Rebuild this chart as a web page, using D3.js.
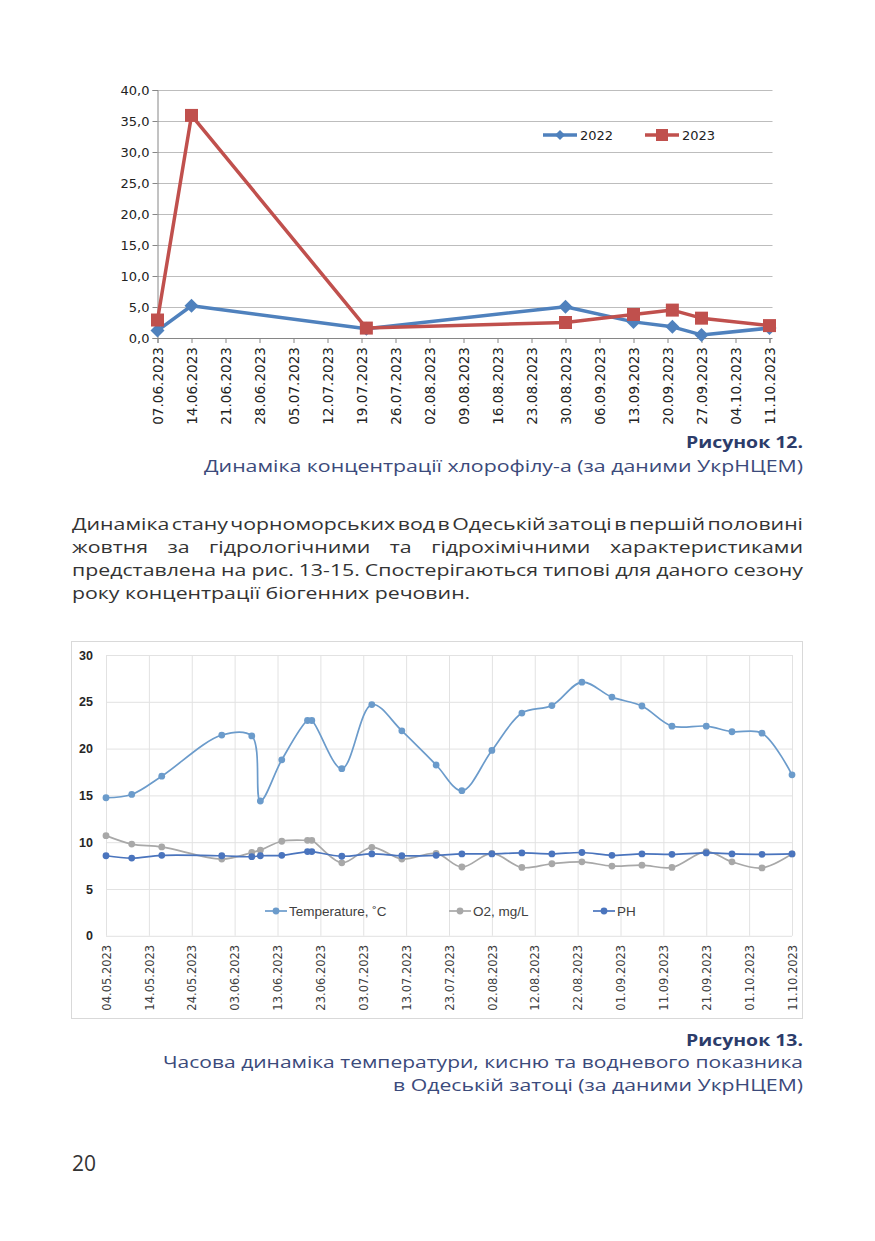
<!DOCTYPE html>
<html>
<head>
<meta charset="utf-8">
<script src="https://cdn.jsdelivr.net/npm/d3@7"></script>
<style>
  body { margin: 0; background: #fff; }
  svg { display: block; }
</style>
</head>
<body>
<div id="page"></div>
<script>
// Figure 12: chlorophyll-a
const chlDates = ["07.06.2023", "14.06.2023", "20.07.2023", "30.08.2023", "13.09.2023", "21.09.2023", "27.09.2023", "11.10.2023"];
const chl2022 = [1.2, 5.2, 1.5, 5.05, 2.6, 1.8, 0.5, 1.6];
const chl2023 = [2.9, 35.9, 1.6, 2.5, 3.8, 4.5, 3.2, 2.0];
const chlTicks = [0, 5, 10, 15, 20, 25, 30, 35, 40];

// Figure 13: temperature, oxygen, pH
const hydDates = ["04.05.2023", "10.05.2023", "17.05.2023", "31.05.2023", "07.06.2023", "09.06.2023",
  "14.06.2023", "20.06.2023", "21.06.2023", "28.06.2023", "05.07.2023", "12.07.2023", "20.07.2023",
  "26.07.2023", "02.08.2023", "09.08.2023", "16.08.2023", "23.08.2023", "30.08.2023", "06.09.2023",
  "13.09.2023", "21.09.2023", "27.09.2023", "04.10.2023", "11.10.2023"];
const temperature = [14.75, 15.1, 17.05, 21.45, 21.35, 14.4, 18.8, 23.0, 23.0, 17.85, 24.7, 21.9, 18.25,
  15.5, 19.8, 23.8, 24.6, 27.1, 25.5, 24.55, 22.4, 22.4, 21.8, 21.65, 17.2];
const oxygen = [10.7, 9.8, 9.5, 8.2, 8.9, 9.15, 10.1, 10.2, 10.2, 7.8, 9.45, 8.2, 8.8,
  7.35, 8.8, 7.3, 7.7, 7.9, 7.45, 7.55, 7.3, 9.0, 7.9, 7.25, 8.75];
const ph = [8.55, 8.3, 8.6, 8.55, 8.45, 8.55, 8.6, 9.0, 9.0, 8.5, 8.75, 8.55, 8.6,
  8.75, 8.75, 8.85, 8.75, 8.9, 8.6, 8.75, 8.7, 8.85, 8.75, 8.7, 8.75];
const hydTicks = [0, 5, 10, 15, 20, 25, 30];

const parseDate = d3.timeParse("%d.%m.%Y");
const formatDate = d3.timeFormat("%d.%m.%Y");

const svg = d3.select("#page").append("svg")
    .attr("width", 875)
    .attr("height", 1241);

// ---------- Figure 12 ----------
const x1 = d3.scaleTime()
    .domain([parseDate(chlDates[0]), parseDate(chlDates[chlDates.length - 1])])
    .range([157.5, 769.5]);
const y1 = d3.scaleLinear().domain([0, 40]).range([338, 90]);

const g1 = svg.append("g");

// gridlines
g1.append("g")
    .attr("transform", "translate(157.5,0)")
    .call(d3.axisLeft(y1).tickValues(chlTicks).tickSize(-615).tickFormat(""))
    .call(g => g.select(".domain").remove())
    .call(g => g.selectAll("line").attr("stroke", d => d === 0 ? "#868686" : "#bdbdbd"));

// y axis with labels
g1.append("g")
    .attr("transform", "translate(157.5,0)")
    .call(d3.axisLeft(y1).tickValues(chlTicks).tickSize(5).tickPadding(3)
      .tickFormat(d => d3.format(".1f")(d).replace(".", ",")))
    .call(g => g.select(".domain").attr("stroke", "#868686"))
    .call(g => g.selectAll("line").attr("stroke", "#868686"))
    .call(g => g.selectAll("text")
      .attr("fill", "#222")
      .style("font-family", "'DejaVu Sans', sans-serif")
      .style("font-size", "13px"));

// x axis
const chlTickDates = d3.timeDay.range(parseDate(chlDates[0]),
    d3.timeDay.offset(parseDate(chlDates[chlDates.length - 1]), 1), 7);
g1.append("g")
    .attr("transform", "translate(0,338)")
    .call(d3.axisBottom(x1).tickValues(chlTickDates).tickSize(5).tickFormat(formatDate))
    .call(g => g.select(".domain").attr("stroke", "#868686"))
    .call(g => g.selectAll("line").attr("stroke", "#868686"))
    .call(g => g.selectAll("text")
      .attr("transform", "rotate(-90)")
      .attr("x", -9)
      .attr("y", 0)
      .attr("dy", "0.36em")
      .attr("text-anchor", "end")
      .attr("fill", "#222")
      .style("font-family", "'DejaVu Sans', sans-serif")
      .style("font-size", "13.6px"));

const chlData2022 = chlDates.map((d, i) => ({ date: parseDate(d), value: chl2022[i] }));
const chlData2023 = chlDates.map((d, i) => ({ date: parseDate(d), value: chl2023[i] }));

const line1 = d3.line().x(d => x1(d.date)).y(d => y1(d.value));

g1.append("path")
    .datum(chlData2022)
    .attr("fill", "none")
    .attr("stroke", "#4f81bd")
    .attr("stroke-width", 3.5)
    .attr("stroke-linejoin", "round")
    .attr("d", line1);

g1.selectAll(".dia")
    .data(chlData2022)
    .enter().append("path")
    .attr("class", "dia")
    .attr("transform", d => `translate(${x1(d.date)},${y1(d.value)})`)
    .attr("d", "M0,-7L7,0L0,7L-7,0Z")
    .attr("fill", "#4f81bd");

g1.append("path")
    .datum(chlData2023)
    .attr("fill", "none")
    .attr("stroke", "#c0504d")
    .attr("stroke-width", 3.5)
    .attr("stroke-linejoin", "round")
    .attr("d", line1);

g1.selectAll(".sq")
    .data(chlData2023)
    .enter().append("rect")
    .attr("class", "sq")
    .attr("x", d => x1(d.date) - 6.5)
    .attr("y", d => y1(d.value) - 6.5)
    .attr("width", 13)
    .attr("height", 13)
    .attr("fill", "#c0504d");

// legend
const leg1 = g1.append("g").style("font-family", "'DejaVu Sans', sans-serif").style("font-size", "13px");
leg1.append("line").attr("x1", 543).attr("x2", 577).attr("y1", 135).attr("y2", 135)
    .attr("stroke", "#4f81bd").attr("stroke-width", 3.5);
leg1.append("path").attr("transform", "translate(560,135)").attr("d", "M0,-5L5,0L0,5L-5,0Z").attr("fill", "#4f81bd");
leg1.append("text").attr("x", 580).attr("y", 140).attr("fill", "#222").text("2022");
leg1.append("line").attr("x1", 645).attr("x2", 679).attr("y1", 135).attr("y2", 135)
    .attr("stroke", "#c0504d").attr("stroke-width", 3.5);
leg1.append("rect").attr("x", 656).attr("y", 129).attr("width", 12).attr("height", 12).attr("fill", "#c0504d");
leg1.append("text").attr("x", 682).attr("y", 140).attr("fill", "#222").text("2023");

// ---------- captions and paragraph ----------
const pageFont = "'Open Sans', 'Noto Sans', sans-serif";

function caption(x, y, str, width, bold) {
  svg.append("text")
      .attr("x", x).attr("y", y)
      .attr("text-anchor", "end")
      .attr("textLength", width)
      .attr("lengthAdjust", "spacingAndGlyphs")
      .attr("fill", bold ? "#2c3c6a" : "#3b4a7b")
      .style("font-family", pageFont)
      .style("font-weight", bold ? 700 : 400)
      .style("font-size", "16.5px")
      .text(str);
}

caption(803, 448, "Рисунок 12.", 117, true);
caption(803, 472, "Динаміка концентрації хлорофілу-а (за даними УкрНЦЕМ)", 599, false);

const paragraph = [
  "Динаміка стану чорноморських вод в Одеській затоці в першій половині",
  "жовтня за гідрологічними та гідрохімічними характеристиками",
  "представлена на рис. 13-15. Спостерігаються типові для даного сезону",
  "року концентрації біогенних речовин."
];
const paraNodes = paragraph.map((s, i) => svg.append("text")
    .attr("x", 0).attr("y", 0)
    .attr("fill", "#333")
    .style("font-family", pageFont)
    .style("font-weight", 400)
    .style("font-size", "16.8px")
    .text(s));

// wide glyphs like the original face: stretch horizontally to match the last line,
// then justify lines 1-3 with word spacing
const sx = 398 / paraNodes[3].node().getComputedTextLength();
paraNodes.forEach((t, i) => {
  t.attr("transform", `translate(72,${530 + i * 23}) scale(${sx},1)`);
  if (i < 3) {
    const natural = t.node().getComputedTextLength();
    const gaps = paragraph[i].split(" ").length - 1;
    t.style("word-spacing", ((731 / sx - natural) / gaps) + "px");
  }
});

caption(803, 1046, "Рисунок 13.", 117, true);
caption(803, 1068, "Часова динаміка температури, кисню та водневого показника", 640, false);
caption(803, 1091, "в Одеській затоці (за даними УкрНЦЕМ)", 410, false);

svg.append("text")
    .attr("x", 72).attr("y", 1171)
    .attr("fill", "#333")
    .style("font-family", pageFont)
    .style("font-size", "21px")
    .text("20");

// ---------- Figure 13 ----------
const g2 = svg.append("g");

g2.append("rect")
    .attr("x", 71.5).attr("y", 641.5)
    .attr("width", 731).attr("height", 377)
    .attr("fill", "#fff")
    .attr("stroke", "#d9d9d9");

const x2 = d3.scaleTime()
    .domain([parseDate("04.05.2023"), parseDate("11.10.2023")])
    .range([106, 792]);
const y2 = d3.scaleLinear().domain([0, 30]).range([935.8, 655]);

const hydTickDates = d3.timeDay.range(parseDate("04.05.2023"),
    d3.timeDay.offset(parseDate("11.10.2023"), 1), 10);

// horizontal gridlines + y labels
g2.append("g")
    .attr("transform", "translate(106,0)")
    .call(d3.axisLeft(y2).tickValues(hydTicks).tickSize(-686).tickPadding(13))
    .call(g => g.select(".domain").remove())
    .call(g => g.selectAll("line").attr("stroke", "#e2e2e2"))
    .call(g => g.selectAll("text")
      .attr("fill", "#262626")
      .style("font-family", "'Liberation Sans', Arial, sans-serif")
      .style("font-weight", 700)
      .style("font-size", "12.5px"));

// vertical gridlines + x labels
g2.append("g")
    .attr("transform", "translate(0,935.8)")
    .call(d3.axisBottom(x2).tickValues(hydTickDates).tickSize(-280.8).tickFormat(formatDate))
    .call(g => g.select(".domain").remove())
    .call(g => g.selectAll("line").attr("stroke", "#e2e2e2"))
    .call(g => g.selectAll("text")
      .attr("transform", "rotate(-90)")
      .attr("x", -9)
      .attr("y", 0)
      .attr("dy", "0.36em")
      .attr("text-anchor", "end")
      .attr("fill", "#404040")
      .style("font-family", "'DejaVu Sans', sans-serif")
      .style("font-size", "11.5px"));

const series = [
  { name: "Temperature, ˚C", values: temperature, color: "#6b9bcb", lx: 265 },
  { name: "O2, mg/L", values: oxygen, color: "#a8a8a8", lx: 449 },
  { name: "PH", values: ph, color: "#4a74bd", lx: 593 }
];

const line2 = d3.line()
    .x(d => x2(d.date))
    .y(d => y2(d.value))
    .curve(d3.curveCatmullRom.alpha(0.5));

series.forEach(s => {
  const data = hydDates.map((d, i) => ({ date: parseDate(d), value: s.values[i] }));
  g2.append("path")
      .datum(data)
      .attr("fill", "none")
      .attr("stroke", s.color)
      .attr("stroke-width", 1.7)
      .attr("d", line2);
  g2.append("g").selectAll("circle")
      .data(data)
      .enter().append("circle")
      .attr("cx", d => x2(d.date))
      .attr("cy", d => y2(d.value))
      .attr("r", 3.4)
      .attr("fill", s.color);

  // legend entry
  g2.append("line").attr("x1", s.lx).attr("x2", s.lx + 22).attr("y1", 911).attr("y2", 911)
      .attr("stroke", s.color).attr("stroke-width", 1.7);
  g2.append("circle").attr("cx", s.lx + 11).attr("cy", 911).attr("r", 3.4).attr("fill", s.color);
  g2.append("text")
      .attr("x", s.lx + 24).attr("y", 915.5)
      .attr("fill", "#404040")
      .style("font-family", "'Liberation Sans', Arial, sans-serif")
      .style("font-size", "13.5px")
      .text(s.name);
});
</script>
</body>
</html>
